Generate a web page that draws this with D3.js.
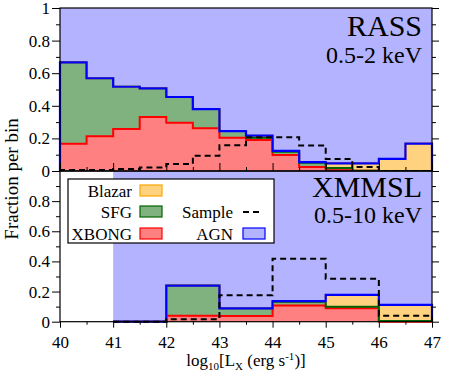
<!DOCTYPE html>
<html>
<head>
<meta charset="utf-8">
<script src="https://cdn.jsdelivr.net/npm/d3@7"></script>
<style>
body { margin: 0; background: #fff; }
text { font-family: "Liberation Serif", "DejaVu Serif", serif; fill: #000; }
</style>
</head>
<body>
<script>
// RASS 0.5-2 keV, bins of 0.5 dex
var rassEdges = [40, 40.5, 41, 41.5, 42, 42.5, 43, 43.5, 44, 44.5, 45, 45.5, 46, 46.5, 47];
var rassXbong = [0.167, 0.213, 0.258, 0.331, 0.296, 0.262, 0.204, 0.190, 0.098, 0.025, 0.005, 0.001, 0, 0];
var rassSfg = [0.500, 0.356, 0.259, 0.176, 0.158, 0.118, 0.041, 0.014, 0.020, 0.025, 0.013, 0.001, 0, 0];
var rassBlazar = [0, 0, 0, 0, 0, 0, 0, 0.013, 0.005, 0.005, 0.029, 0.045, 0.074, 0.168];
var rassSample = [0.006, 0.006, 0.012, 0.022, 0.043, 0.094, 0.158, 0.207, 0.207, 0.157, 0.074, 0.025, 0, 0];

// XMMSL 0.5-10 keV, bins of 1 dex
var xmmEdges = [41, 42, 43, 44, 45, 46, 47];
var xmmXbong = [0, 0.040, 0.038, 0.107, 0.089, 0];
var xmmSfg = [0, 0.200, 0.051, 0.024, 0.011, 0.004];
var xmmBlazar = [0, 0, 0, 0.005, 0.078, 0.107];
var xmmSample = [0, 0.016, 0.176, 0.418, 0.285, 0.040];

var xTicks = [40, 41, 42, 43, 44, 45, 46, 47];
var xMinor = [40.5, 41.5, 42.5, 43.5, 44.5, 45.5, 46.5];
var yTicksTop = [0, 0.2, 0.4, 0.6, 0.8, 1];
var yTicksBot = [0, 0.2, 0.4, 0.6, 0.8];
var yMinor = [0.1, 0.3, 0.5, 0.7, 0.9];

var fillColors = { XBONG: "#ff8080", SFG: "#80b280", Blazar: "#ffd280", AGN: "#b3b3ff" };
var edgeColors = { XBONG: "#ff0000", SFG: "#006400", Blazar: "#ffa500", AGN: "#0000ff" };

var svg = d3.select("body").append("svg")
    .attr("width", 458)
    .attr("height", 378);

var x = d3.scaleLinear().domain([40, 47]).range([60, 432]);
var yTop = d3.scaleLinear().domain([0, 1]).range([171, 8]);
var yBot = d3.scaleLinear().domain([0, 1]).range([321.7, 171]);

function drawPanel(edges, xbong, sfg, blazar, sample, y) {
    var last = edges[edges.length - 1];
    var rows = edges.slice(0, -1).map(function(e, i) {
        var r = { x0: e, XBONG: xbong[i], SFG: sfg[i], Blazar: blazar[i] };
        r.AGN = 1 - r.XBONG - r.SFG - r.Blazar;
        return r;
    });
    var stacked = d3.stack().keys(["XBONG", "SFG", "Blazar", "AGN"])(rows);
    var g = svg.append("g");

    // filled steps, one path per layer
    var area = d3.area()
        .x(function(d) { return x(d[0]); })
        .y0(function(d) { return y(d[1]); })
        .y1(function(d) { return y(d[2]); })
        .curve(d3.curveStepAfter);
    stacked.forEach(function(layer) {
        var pts = layer.map(function(d) { return [d.data.x0, d[0], d[1]]; });
        var end = layer[layer.length - 1];
        pts.push([last, end[0], end[1]]);
        g.append("path").attr("d", area(pts)).attr("fill", fillColors[layer.key]);
    });

    var line = d3.line()
        .x(function(d) { return x(d[0]); })
        .y(function(d) { return y(d[1]); })
        .curve(d3.curveStepAfter);
    function stepPts(vals) {
        var p = [[edges[0], 0]];
        vals.forEach(function(v, i) { p.push([edges[i], v]); });
        p.push([last, vals[vals.length - 1]]);
        p.push([last, 0]);
        return p;
    }

    // outlines of each stacked layer, then AGN lower edge in blue
    stacked.slice(0, 3).forEach(function(layer) {
        g.append("path")
            .attr("d", line(stepPts(layer.map(function(d) { return d[1]; }))))
            .attr("fill", "none")
            .attr("stroke", edgeColors[layer.key])
            .attr("stroke-width", 2);
    });
    g.append("path")
        .attr("d", line(stepPts(stacked[3].map(function(d) { return d[0]; }))))
        .attr("fill", "none")
        .attr("stroke", edgeColors.AGN)
        .attr("stroke-width", 2.2);

    g.append("path")
        .attr("d", line(stepPts(sample)))
        .attr("fill", "none")
        .attr("stroke", "#000")
        .attr("stroke-width", 2)
        .attr("stroke-dasharray", "6,4");
}

drawPanel(rassEdges, rassXbong, rassSfg, rassBlazar, rassSample, yTop);
drawPanel(xmmEdges, xmmXbong, xmmSfg, xmmBlazar, xmmSample, yBot);

function styleAxis(g) {
    g.selectAll("text").style("font-family", '"Liberation Serif", serif').style("font-size", "17px");
    g.select(".domain").remove();
}

function yAxes(y, labels) {
    svg.append("g").attr("transform", "translate(60,0)")
        .call(d3.axisLeft(y).tickValues(labels).tickSize(8).tickPadding(2).tickFormat(d3.format("~g")))
        .call(styleAxis);
    svg.append("g").attr("transform", "translate(60,0)")
        .call(d3.axisLeft(y).tickValues(yMinor).tickSize(4).tickFormat(""))
        .call(styleAxis);
    svg.append("g").attr("transform", "translate(432,0)")
        .call(d3.axisRight(y).tickValues(yTicksTop).tickSize(7).tickFormat(""))
        .call(styleAxis);
    svg.append("g").attr("transform", "translate(432,0)")
        .call(d3.axisRight(y).tickValues(yMinor).tickSize(4).tickFormat(""))
        .call(styleAxis);
}
yAxes(yTop, yTicksTop);
yAxes(yBot, yTicksBot);

// top panel: x ticks point inward
svg.append("g").attr("transform", "translate(0,171)")
    .call(d3.axisTop(x).tickValues(xTicks).tickSize(8).tickFormat(""))
    .call(styleAxis);
svg.append("g").attr("transform", "translate(0,171)")
    .call(d3.axisTop(x).tickValues(xMinor).tickSize(4).tickFormat(""))
    .call(styleAxis);

// bottom panel: labelled x axis
svg.append("g").attr("transform", "translate(0,321.7)")
    .call(d3.axisBottom(x).tickValues(xTicks).tickSize(6).tickPadding(8).tickFormat(d3.format("d")))
    .call(styleAxis);
svg.append("g").attr("transform", "translate(0,321.7)")
    .call(d3.axisBottom(x).tickValues(xMinor).tickSize(3).tickFormat(""))
    .call(styleAxis);

// frames
svg.append("rect").attr("x", 60).attr("y", 8).attr("width", 372).attr("height", 163)
    .attr("fill", "none").attr("stroke", "#000").attr("stroke-width", 1.2);
svg.append("rect").attr("x", 60).attr("y", 171).attr("width", 372).attr("height", 150.7)
    .attr("fill", "none").attr("stroke", "#000").attr("stroke-width", 1.2);

// panel labels
function label(txt, yy, size) {
    svg.append("text").attr("x", 422).attr("y", yy).attr("text-anchor", "end")
        .style("font-size", size + "px").text(txt);
}
label("RASS", 36, 30);
label("0.5-2 keV", 63, 24);
label("XMMSL", 197, 30);
label("0.5-10 keV", 223, 24);

// axis titles
svg.append("text")
    .attr("transform", "translate(18,179) rotate(-90)")
    .attr("text-anchor", "middle")
    .style("font-size", "19px")
    .text("Fraction per bin");

var xt = svg.append("text").attr("x", 246).attr("y", 366).attr("text-anchor", "middle").style("font-size", "17px");
xt.append("tspan").text("log");
xt.append("tspan").attr("dy", 4).style("font-size", "11px").text("10");
xt.append("tspan").attr("dy", -4).text("[L");
xt.append("tspan").attr("dy", 4).style("font-size", "11px").text("X");
xt.append("tspan").attr("dy", -4).text(" (erg s");
xt.append("tspan").attr("dy", -6).style("font-size", "11px").text("-1");
xt.append("tspan").attr("dy", 6).text(")]");

// legend
var leg = svg.append("g");
leg.append("rect").attr("x", 68).attr("y", 179).attr("width", 206).attr("height", 64)
    .attr("fill", "#fff").attr("stroke", "#000").attr("stroke-width", 1.2);
var legRows = [
    { name: "Blazar", key: "Blazar", tx: 132, sx: 140, base: 197 },
    { name: "SFG", key: "SFG", tx: 132, sx: 140, base: 218 },
    { name: "XBONG", key: "XBONG", tx: 132, sx: 140, base: 240 },
    { name: "AGN", key: "AGN", tx: 233, sx: 243, base: 240 }
];
legRows.forEach(function(r) {
    leg.append("text").attr("x", r.tx).attr("y", r.base).attr("text-anchor", "end")
        .style("font-size", "17px").text(r.name);
    leg.append("rect").attr("x", r.sx).attr("y", r.base - 12).attr("width", 22).attr("height", 11)
        .attr("fill", fillColors[r.key]).attr("stroke", edgeColors[r.key]).attr("stroke-width", 1.2);
});
leg.append("text").attr("x", 233).attr("y", 218).attr("text-anchor", "end")
    .style("font-size", "17px").text("Sample");
leg.append("line").attr("x1", 243).attr("x2", 261).attr("y1", 212).attr("y2", 212)
    .attr("stroke", "#000").attr("stroke-width", 2).attr("stroke-dasharray", "6,4");
</script>
</body>
</html>
